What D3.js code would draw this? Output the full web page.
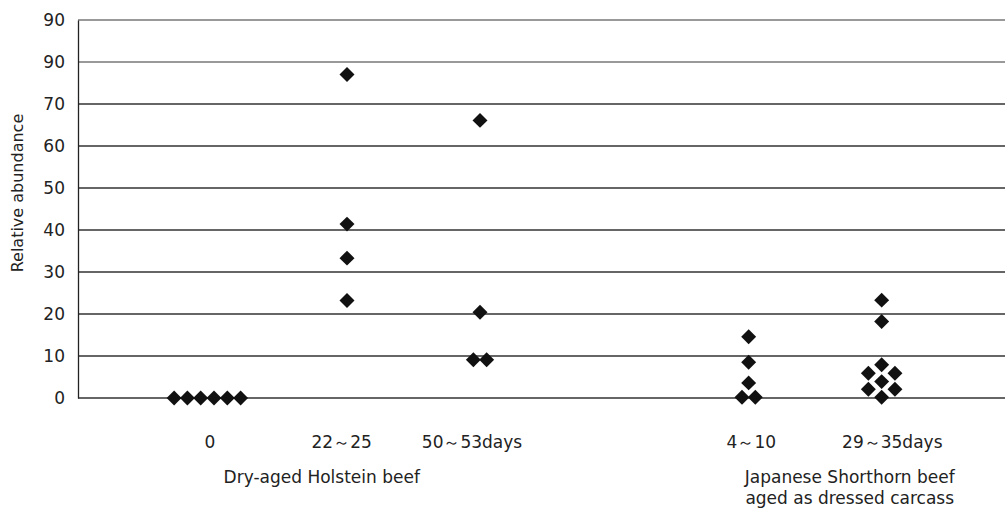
<!DOCTYPE html>
<html>
<head>
<meta charset="utf-8">
<script src="https://cdn.jsdelivr.net/npm/d3@7"></script>
<style>
  body { margin: 0; background: #fff; }
  text { font-family: "DejaVu Sans", sans-serif; fill: #222; }
</style>
</head>
<body>
<div id="chart"></div>
<script>
// data
var yTicks = [0, 10, 20, 30, 40, 50, 60, 70, 80, 90];
// the original figure labels the 80 line as "90" too
var yTickLabels = ["0", "10", "20", "30", "40", "50", "60", "70", "90", "90"];

var categories = ["0", "22\uFF5E25", "50\uFF5E53days", "4\uFF5E10", "29\uFF5E35days"];
var categoryPos = [0.95, 2, 3, 5.02, 6.02];
var labelPos = [0.97, 1.96, 2.94, 5.04, 6.1];

// each point: category index, jitter step, value
var catIndex = [0, 0, 0, 0, 0, 0,
                1, 1, 1, 1,
                2, 2, 2, 2,
                3, 3, 3, 3, 3,
                4, 4, 4, 4, 4, 4, 4, 4, 4];
var jitter = [-2.5, -1.5, -0.5, 0.5, 1.5, 2.5,
              0, 0, 0, 0,
              0, 0, -0.5, 0.5,
              0, 0, 0, -0.5, 0.5,
              0, 0, 0, -1, 1, 0, -1, 1, 0];
var values = [0, 0, 0, 0, 0, 0,
              77, 41.4, 33.3, 23.2,
              66.1, 20.4, 9.1, 9.1,
              14.6, 8.5, 3.6, 0.2, 0.2,
              23.3, 18.2, 7.9, 5.9, 5.9, 3.9, 2.1, 2.1, 0.2];

var groupLabels = [
  { lines: ["Dry-aged Holstein beef"], pos: 1.81 },
  { lines: ["Japanese Shorthorn beef", "aged as dressed carcass"], pos: 5.78 }
];

var W = 1005, H = 509;
var margin = { top: 20, right: 0, bottom: 111, left: 78 };
var fontSize = "17px";

var svg = d3.select("#chart").append("svg")
    .attr("width", W).attr("height", H);

var y = d3.scaleLinear().domain([0, 90])
    .range([H - margin.bottom, margin.top]);
var x = d3.scaleLinear().domain([0, 7])
    .range([margin.left + 3, margin.left + 3 + 7 * 133]);
var step = 0.1; // jitter step in x units

// gridlines
svg.append("g").selectAll("line")
    .data(yTicks)
  .enter().append("line")
    .attr("x1", margin.left).attr("x2", W)
    .attr("y1", function(d) { return y(d); })
    .attr("y2", function(d) { return y(d); })
    .attr("stroke", function(d) { return d >= 80 ? "#777" : "#333"; })
    .attr("stroke-width", 1.3);

// y axis
var yAxis = d3.axisLeft(y).tickValues(yTicks)
    .tickSize(0).tickPadding(13)
    .tickFormat(function(d, i) { return yTickLabels[i]; });
var ga = svg.append("g")
    .attr("transform", "translate(" + margin.left + ",0)")
    .call(yAxis);
ga.select(".domain").attr("stroke", "#222").attr("stroke-width", 1.3);
ga.selectAll("text").style("font-family", "DejaVu Sans").style("font-size", fontSize).attr("fill", "#222");

svg.append("text")
    .attr("transform", "translate(23," + y(48.8) + ") rotate(-90)")
    .attr("text-anchor", "middle")
    .style("font-size", "16px")
    .text("Relative abundance");

// category labels
svg.append("g").selectAll("text")
    .data(categories)
  .enter().append("text")
    .attr("x", function(d, i) { return x(labelPos[i]); })
    .attr("y", 448)
    .attr("text-anchor", "middle")
    .style("font-size", fontSize)
    .text(function(d) { return d; });

// group labels
groupLabels.forEach(function(g) {
  g.lines.forEach(function(l, j) {
    svg.append("text")
      .attr("x", x(g.pos))
      .attr("y", 483 + j * 21)
      .attr("text-anchor", "middle")
      .style("font-size", fontSize)
      .text(l);
  });
});

// points
var sym = d3.symbol().type(d3.symbolSquare).size(112);
svg.append("g").selectAll("path")
    .data(values)
  .enter().append("path")
    .attr("d", sym)
    .attr("fill", "#111")
    .attr("transform", function(d, i) {
      var px = x(categoryPos[catIndex[i]] + jitter[i] * step);
      return "translate(" + px + "," + y(d) + ") rotate(45)";
    });
</script>
</body>
</html>
